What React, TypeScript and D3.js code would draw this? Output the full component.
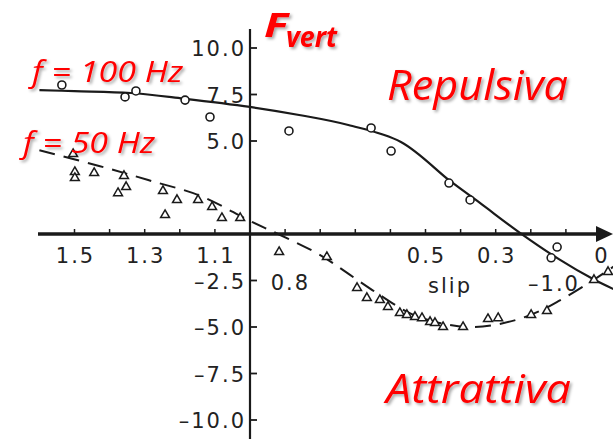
import React from 'react';
import * as d3 from 'd3';

// fitted curve, f = 100 Hz (solid)
const fit100Slip = [1.6, 1.5, 1.34, 1.19, 1.0, 0.86, 0.72, 0.57, 0.43, 0.345, 0.23, 0.12, 0.02, -0.04];
const fit100F = [7.74, 7.68, 7.58, 7.28, 6.83, 6.4, 5.86, 4.95, 2.85, 1.67, 0.05, -1.35, -2.45, -3.0];

// fitted curve, f = 50 Hz (dashed)
const fit50Slip = [1.6, 1.43, 1.29, 1.14, 1.0, 0.92, 0.8, 0.715, 0.63, 0.545, 0.46, 0.375, 0.29, 0.2, 0.12, 0.03, -0.04];
const fit50F = [4.5, 3.66, 2.9, 2.04, 0.7, 0.0, -1.13, -2.2, -3.28, -4.25, -4.78, -5.0, -4.84, -4.35, -3.6, -2.58, -1.7];

// measured points, f = 100 Hz (circles)
const pts100Slip = [1.536, 1.356, 1.325, 1.185, 1.114, 0.889, 0.655, 0.598, 0.433, 0.373, 0.125, 0.142];
const pts100F = [8.01, 7.37, 7.69, 7.2, 6.29, 5.54, 5.7, 4.46, 2.74, 1.83, -0.7, -1.28];

// measured points, f = 50 Hz (triangles)
const pts50Slip = [1.504, 1.499, 1.499, 1.444, 1.359, 1.353, 1.376, 1.248, 1.208, 1.242, 1.148, 1.108, 1.08, 1.028,
  0.917, 0.781, 0.695, 0.667, 0.63, 0.607, 0.573, 0.553, 0.53, 0.51, 0.487, 0.473, 0.45, 0.393, 0.322, 0.293,
  0.199, 0.154, 0.02, -0.02];
const pts50F = [4.3, 3.33, 3.01, 3.28, 3.12, 2.53, 2.2, 2.31, 1.83, 1.02, 1.83, 1.45, 0.86, 0.86,
  -0.97, -1.24, -2.9, -3.44, -3.55, -3.92, -4.25, -4.35, -4.46, -4.52, -4.73, -4.78, -5.0, -5.0, -4.57, -4.52,
  -4.35, -4.14, -2.47, -2.04];

const xTickLabels = [1.5, 1.3, 1.1, 0.5, 0.3, 0];
const xMinorTicks = [1.5, 1.4, 1.3, 1.2, 1.1, 0.9, 0.8, 0.7, 0.6, 0.5, 0.4, 0.3, 0.2, 0.1];
const yTicks = [10, 7.5, 5, -2.5, -5, -7.5, -10];

const W = 613;
const H = 439;

const App = () => {
  const x = d3.scaleLinear().domain([1.6, 0]).range([39.4, 601]);
  const y = d3.scaleLinear().domain([10, -10]).range([48, 420]);

  const line = d3.line<[number, number]>()
    .x(d => x(d[0]))
    .y(d => y(d[1]))
    .curve(d3.curveCatmullRom.alpha(0.5));

  const path100 = line(fit100Slip.map((s, i) => [s, fit100F[i]] as [number, number]));
  const path50 = line(fit50Slip.map((s, i) => [s, fit50F[i]] as [number, number]));
  const tri = d3.symbol(d3.symbolTriangle, 34)();

  const ink = '#1a1a1a';
  const tickFont = { fontFamily: 'DejaVu Sans, sans-serif', fontSize: 21, fill: '#222', letterSpacing: 2 };
  const redFont = { fontFamily: 'Open Sans, Liberation Sans, sans-serif', fill: '#ff0000', fontStyle: 'italic' as const };
  const fmtY = (v: number) => (v < 0 ? '–' : '') + Math.abs(v).toFixed(1);

  return (
    <svg width={W} height={H} style={{ position: 'absolute', left: 0, top: 0, background: '#fff' }}>
      <defs>
        <filter id="shadow" x="-10%" y="-20%" width="130%" height="160%">
          <feDropShadow dx="2" dy="2" stdDeviation="1.5" floodColor="#000" floodOpacity="0.35" />
        </filter>
      </defs>

      {/* x axis with arrow */}
      <line x1={38} x2={600} y1={y(0)} y2={y(0)} stroke={ink} strokeWidth={3.5} />
      <path d={`M596,${y(0) - 8}L613,${y(0)}L596,${y(0) + 8}Z`} fill={ink} />
      {xMinorTicks.map(t => (
        <line key={t} x1={x(t)} x2={x(t)} y1={y(0) - 5} y2={y(0)} stroke={ink} strokeWidth={1.5} />
      ))}
      {xTickLabels.map(t => (
        <text key={t} x={x(t) + 1} y={y(0) + 29} textAnchor="middle" {...tickFont}>{String(t)}</text>
      ))}
      <text x={x(0.885)} y={y(0) + 56} textAnchor="middle" {...tickFont}>0.8</text>
      <text x={450} y={y(0) + 59} textAnchor="middle" {...tickFont}>slip</text>
      <text x={554} y={y(0) + 57} textAnchor="middle" {...tickFont}>–1.0</text>

      {/* y axis */}
      <line x1={x(1)} x2={x(1)} y1={29} y2={H} stroke={ink} strokeWidth={2.2} />
      {yTicks.map(t => (
        <g key={t}>
          <line x1={x(1)} x2={x(1) + 7} y1={y(t)} y2={y(t)} stroke={ink} strokeWidth={1.8} />
          <text x={x(1) - 4} y={y(t) + 8} textAnchor="end" {...tickFont}>{fmtY(t)}</text>
        </g>
      ))}

      {/* curves */}
      <path d={path100 ?? ''} fill="none" stroke={ink} strokeWidth={2.2} />
      <path d={path50 ?? ''} fill="none" stroke={ink} strokeWidth={2} strokeDasharray="16 9" />

      {/* data points */}
      {pts100Slip.map((s, i) => (
        <circle key={i} cx={x(s)} cy={y(pts100F[i])} r={4} fill="#fff" stroke={ink} strokeWidth={1.6} />
      ))}
      {pts50Slip.map((s, i) => (
        <path key={i} d={tri ?? ''} transform={`translate(${x(s)},${y(pts50F[i])})`} fill="#fff" stroke={ink} strokeWidth={1.5} />
      ))}

      {/* red annotations */}
      <g filter="url(#shadow)">
        <text x={264} y={37} {...redFont} fontWeight="bold" fontSize={34} textLength={24} lengthAdjust="spacingAndGlyphs">F</text>
        <text x={286} y={47} {...redFont} fontWeight="bold" fontSize={28} textLength={51} lengthAdjust="spacingAndGlyphs">vert</text>
        <text x={32} y={82} {...redFont} fontSize={29} textLength={151} lengthAdjust="spacingAndGlyphs">f = 100 Hz</text>
        <text x={23} y={153} {...redFont} fontSize={29} textLength={132} lengthAdjust="spacingAndGlyphs">f = 50 Hz</text>
        <text x={387} y={100} {...redFont} fontSize={42} textLength={181} lengthAdjust="spacingAndGlyphs">Repulsiva</text>
        <text x={386} y={403} {...redFont} fontSize={40} textLength={185} lengthAdjust="spacingAndGlyphs">Attrattiva</text>
      </g>
    </svg>
  );
};

export default App;
